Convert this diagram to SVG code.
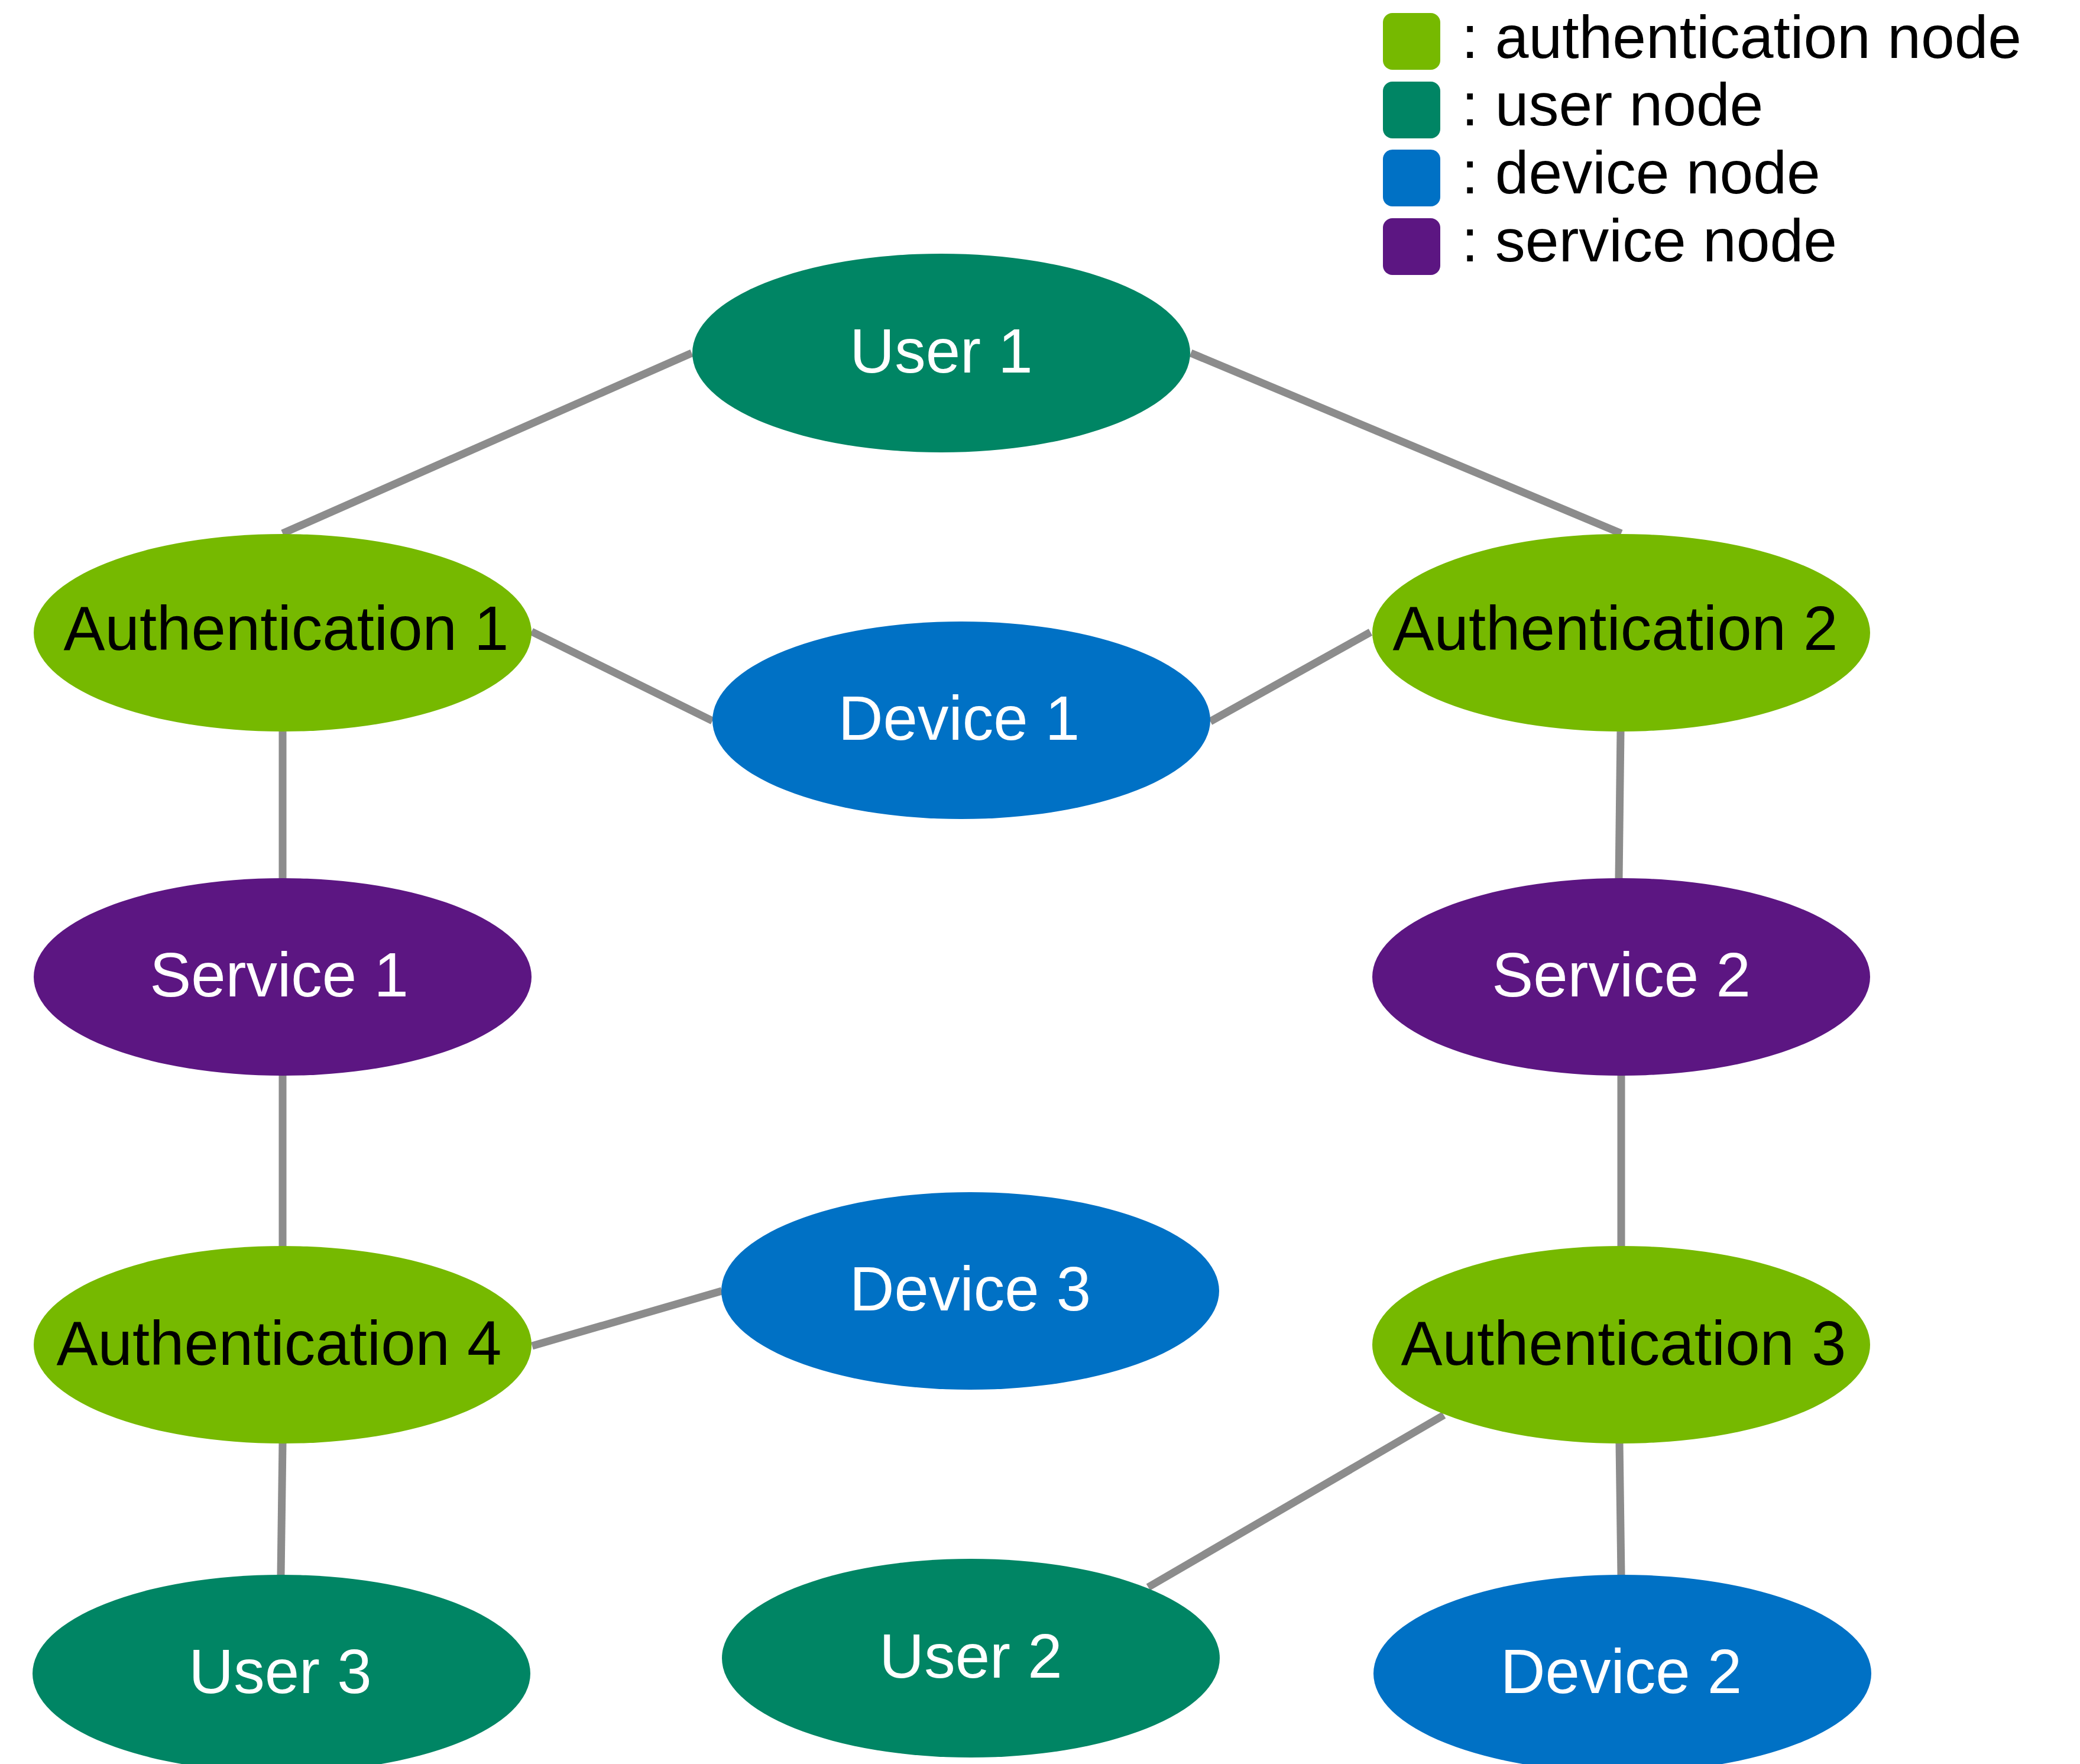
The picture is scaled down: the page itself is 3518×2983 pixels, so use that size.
<svg xmlns="http://www.w3.org/2000/svg" width="3518" height="2983" viewBox="0 0 3518 2983">
  <style>
    .edge { stroke: #8c8c8c; stroke-width: 13; fill: none; }
    .auth { fill: #76b900; }
    .user { fill: #008564; }
    .device { fill: #0071c5; }
    .service { fill: #5c1682; }
    .lbl { font-family: "Liberation Sans", Arial, sans-serif; font-size: 105px; text-anchor: middle; }
    .dark { fill: #000000; }
    .light { fill: #ffffff; }
    .legend { font-family: "Liberation Sans", Arial, sans-serif; font-size: 102px; fill: #000000; }
  </style>
  <rect width="3518" height="2983" fill="#ffffff"/>

  <!-- connectors -->
  <g id="edges">
    <line class="edge" x1="1170" y1="597" x2="478" y2="902"/>
    <line class="edge" x1="2014" y1="597" x2="2742" y2="902"/>
    <line class="edge" x1="899" y1="1068" x2="1205" y2="1219"/>
    <line class="edge" x1="2047" y1="1220" x2="2318" y2="1069"/>
    <line class="edge" x1="478" y1="1237" x2="478" y2="1486"/>
    <line class="edge" x1="2741" y1="1237" x2="2738" y2="1486"/>
    <line class="edge" x1="478" y1="1818" x2="478" y2="2108"/>
    <line class="edge" x1="2742" y1="1818" x2="2742" y2="2108"/>
    <line class="edge" x1="900" y1="2276" x2="1221" y2="2183"/>
    <line class="edge" x1="478" y1="2440" x2="475" y2="2664"/>
    <line class="edge" x1="2442" y1="2393" x2="1942" y2="2684"/>
    <line class="edge" x1="2739" y1="2440" x2="2742" y2="2664"/>
  </g>

  <!-- nodes -->
  <g id="user1">
    <ellipse class="user" cx="1592" cy="597" rx="421" ry="168"/>
    <text class="lbl light" x="1592" y="630">User 1</text>
  </g>
  <g id="auth1">
    <ellipse class="auth" cx="478" cy="1070" rx="421" ry="167"/>
    <text class="lbl dark" x="484" y="1099">Authentication 1</text>
  </g>
  <g id="device1">
    <ellipse class="device" cx="1626" cy="1218" rx="421" ry="167"/>
    <text class="lbl light" x="1622" y="1251">Device 1</text>
  </g>
  <g id="auth2">
    <ellipse class="auth" cx="2742" cy="1070" rx="421" ry="167"/>
    <text class="lbl dark" x="2732" y="1099">Authentication 2</text>
  </g>
  <g id="service1">
    <ellipse class="service" cx="478" cy="1652" rx="421" ry="167"/>
    <text class="lbl light" x="472" y="1685">Service 1</text>
  </g>
  <g id="service2">
    <ellipse class="service" cx="2742" cy="1652" rx="421" ry="167"/>
    <text class="lbl light" x="2742" y="1685">Service 2</text>
  </g>
  <g id="auth4">
    <ellipse class="auth" cx="478" cy="2274" rx="421" ry="167"/>
    <text class="lbl dark" x="472" y="2308">Authentication 4</text>
  </g>
  <g id="device3">
    <ellipse class="device" cx="1641" cy="2183" rx="421" ry="167"/>
    <text class="lbl light" x="1641" y="2216">Device 3</text>
  </g>
  <g id="auth3">
    <ellipse class="auth" cx="2742" cy="2274" rx="421" ry="167"/>
    <text class="lbl dark" x="2746" y="2308">Authentication 3</text>
  </g>
  <g id="user3">
    <ellipse class="user" cx="476" cy="2830" rx="421" ry="167"/>
    <text class="lbl light" x="474" y="2863">User 3</text>
  </g>
  <g id="user2">
    <ellipse class="user" cx="1642" cy="2804" rx="421" ry="168"/>
    <text class="lbl light" x="1642" y="2837">User 2</text>
  </g>
  <g id="device2">
    <ellipse class="device" cx="2744" cy="2830" rx="421" ry="167"/>
    <text class="lbl light" x="2742" y="2863">Device 2</text>
  </g>

  <!-- legend -->
  <g id="legend">
    <rect class="auth" x="2339" y="22" width="97" height="96" rx="16"/>
    <text class="legend" x="2472" y="98">: authentication node</text>
    <rect class="user" x="2339" y="138" width="97" height="96" rx="16"/>
    <text class="legend" x="2472" y="212">: user node</text>
    <rect class="device" x="2339" y="253" width="97" height="96" rx="16"/>
    <text class="legend" x="2472" y="327">: device node</text>
    <rect class="service" x="2339" y="369" width="97" height="96" rx="16"/>
    <text class="legend" x="2472" y="442">: service node</text>
  </g>
</svg>
